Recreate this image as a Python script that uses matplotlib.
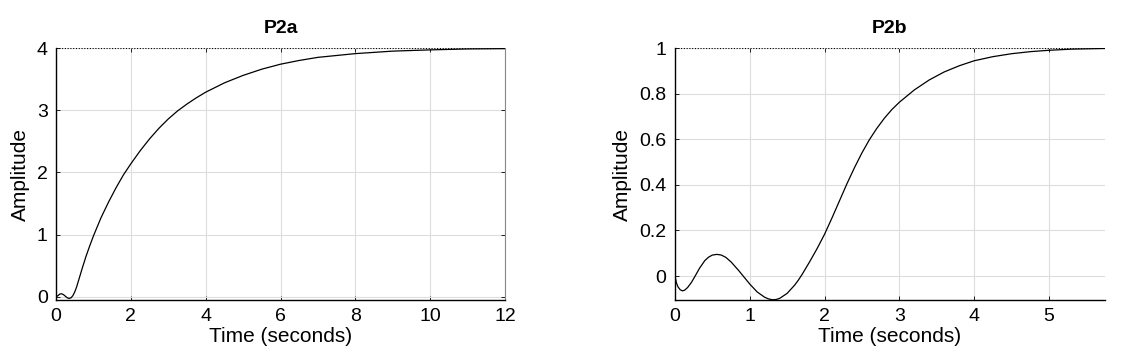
# Step responses P2a / P2b
import matplotlib.pyplot as plt
import numpy as np

plt.rcParams['font.family'] = ['Liberation Sans', 'DejaVu Sans']

# P2a step response
t_a = [0, 0.05, 0.1, 0.15, 0.2, 0.25, 0.3, 0.35, 0.4, 0.45, 0.5, 0.55, 0.6,
       0.7, 0.8, 0.9, 1.0, 1.2, 1.4, 1.6, 1.8, 2.0, 2.25, 2.5, 2.75, 3.0,
       3.25, 3.5, 3.75, 4.0, 4.5, 5.0, 5.5, 6.0, 6.5, 7.0, 7.5, 8.0, 9.0,
       10.0, 11.0, 12.0]
y_a = [0, 0.02, 0.045, 0.05, 0.035, 0.01, -0.015, -0.025, -0.015, 0.02,
       0.08, 0.16, 0.26, 0.46, 0.65, 0.82, 0.98, 1.27, 1.52, 1.75, 1.96,
       2.14, 2.35, 2.54, 2.71, 2.86, 2.99, 3.10, 3.20, 3.29, 3.44, 3.56,
       3.66, 3.74, 3.80, 3.85, 3.88, 3.91, 3.95, 3.97, 3.985, 3.99]

# P2b step response
t_b = [0, 0.02, 0.04, 0.07, 0.1, 0.13, 0.17, 0.22, 0.27, 0.33, 0.4, 0.45,
       0.5, 0.56, 0.62, 0.68, 0.75, 0.85, 0.92, 1.0, 1.1, 1.2, 1.25, 1.3,
       1.35, 1.4, 1.5, 1.6, 1.65, 1.7, 1.8, 1.9, 2.0, 2.1, 2.2, 2.3, 2.4,
       2.5, 2.6, 2.7, 2.8, 2.9, 3.0, 3.2, 3.4, 3.6, 3.8, 4.0, 4.25, 4.5,
       4.75, 5.0, 5.3, 5.75]
y_b = [0, -0.03, -0.047, -0.06, -0.065, -0.062, -0.05, -0.028, 0.0, 0.035,
       0.068, 0.083, 0.092, 0.095, 0.092, 0.082, 0.062, 0.025, -0.003,
       -0.035, -0.07, -0.093, -0.1, -0.104, -0.103, -0.098, -0.076, -0.04,
       -0.018, 0.007, 0.062, 0.12, 0.183, 0.255, 0.33, 0.405, 0.475, 0.54,
       0.598, 0.648, 0.692, 0.73, 0.762, 0.816, 0.86, 0.895, 0.922, 0.944,
       0.962, 0.975, 0.984, 0.99, 0.995, 0.998]


def style_axes(ax, title, final):
    ax.axhline(final, color='black', linestyle=(0, (1, 1.5)), linewidth=0.8)
    ax.grid(True, color='#dddddd', linewidth=0.8)
    ax.set_axisbelow(True)
    ax.tick_params(direction='in', length=3, labelsize=14, top=True,
                   right=True, width=0.6, pad=6)
    for side in ['left', 'bottom']:
        ax.spines[side].set_color('black')
        ax.spines[side].set_linewidth(1.0)
    ax.spines['right'].set_color('#888888')
    ax.spines['top'].set_visible(False)
    ax.set_title(title, fontsize=14, fontweight='bold', pad=11)
    ax.set_xlabel('Time (seconds)', fontsize=15, labelpad=1)
    ax.set_ylabel('Amplitude', fontsize=15, labelpad=5)


fig = plt.figure(figsize=(11.21, 3.57), dpi=100)

ax1 = fig.add_axes([0.0500, 0.1597, 0.4005, 0.7058])
ax1.plot(t_a, y_a, color='black', linewidth=0.9)
ax1.set_xlim(0, 12)
ax1.set_ylim(-0.05, 4)
ax1.set_xticks(np.arange(0, 13, 2))
ax1.set_yticks(np.arange(0, 5, 1))
style_axes(ax1, 'P2a', 4)

ax2 = fig.add_axes([0.6021, 0.1597, 0.3836, 0.7058])
ax2.plot(t_b, y_b, color='black', linewidth=0.9)
ax2.set_xlim(0, 5.75)
ax2.set_ylim(-0.105, 1)
ax2.set_xticks(np.arange(0, 6, 1))
ax2.set_yticks([0, 0.2, 0.4, 0.6, 0.8, 1])
ax2.set_yticklabels(['0', '0.2', '0.4', '0.6', '0.8', '1'])
style_axes(ax2, 'P2b', 1)
ax2.spines['right'].set_visible(False)
ax2.tick_params(right=False)

fig.savefig('out.png', dpi=100)
